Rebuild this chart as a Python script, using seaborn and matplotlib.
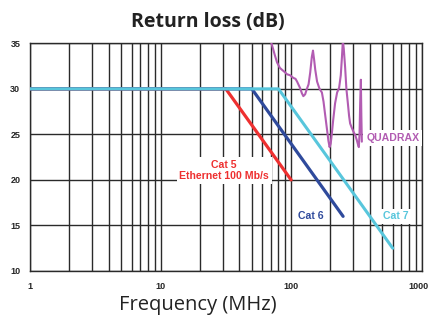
import numpy as np
import pandas as pd
import matplotlib
matplotlib.use("Agg")
import matplotlib.pyplot as plt
import matplotlib.transforms as mtransforms
import seaborn as sns

# Cable specs: frequency (MHz) vs return loss (dB)
cat5_freq = [1, 31.6, 100]
cat5_rl = [30, 30, 20]

cat6_freq = [1, 50, 250]
cat6_rl = [30, 30, 16]

cat7_freq = [1, 80, 600]
cat7_rl = [30, 30, 12.5]

quadrax_freq = [70, 73, 75, 78, 82, 85, 90, 93, 98, 104, 108, 111, 117, 121, 124,
                128, 132, 136, 140, 144, 147, 150, 153, 158, 165, 172, 177, 182,
                188, 193, 197, 201, 205, 210, 217, 225, 233, 240, 245, 249, 253,
                259, 265, 272, 278, 283, 290, 300, 310, 318, 325, 330, 334, 338,
                342, 345, 348]
quadrax_rl = [35.2, 34.3, 33.7, 32.9, 32.3, 32.1, 31.8, 31.6, 31.5, 31.2, 31.1,
              30.8, 30.1, 29.5, 29.2, 29.4, 30.0, 30.5, 31.8, 33.5, 34.2, 33.2,
              32.1, 30.8, 30.0, 29.6, 28.6, 27.2, 25.6, 24.3, 23.6, 24.0, 25.1,
              26.6, 28.4, 29.6, 30.1, 31.5, 33.5, 35.3, 34.4, 32.4, 30.0, 28.4,
              27.0, 26.2, 25.8, 25.3, 24.9, 24.4, 23.9, 23.6, 25.0, 28.5, 31.0,
              27.0, 24.2]

x_ticks = [1, 10, 100, 1000]
y_ticks = [10, 15, 20, 25, 30, 35]

RED = "#ee3030"
BLUE = "#2f4a9c"
CYAN = "#58c6dc"
MAGENTA = "#b25cb2"
GRID = "#2a2a2a"

sns.set_style("white")
plt.rcParams["font.family"] = ["Liberation Sans", "DejaVu Sans"]

fig = plt.figure(figsize=(4.3, 3.15), dpi=100)
ax = fig.add_axes([0.0698, 0.1397, 0.9109, 0.7228])

sns.lineplot(x=cat5_freq, y=cat5_rl, ax=ax, color=RED, lw=2.3, zorder=3)
sns.lineplot(x=cat6_freq, y=cat6_rl, ax=ax, color=BLUE, lw=2.3, zorder=4)
sns.lineplot(x=cat7_freq, y=cat7_rl, ax=ax, color=CYAN, lw=2.2, zorder=5)
q = pd.DataFrame({"f": quadrax_freq, "rl": quadrax_rl})
sns.lineplot(data=q, x="f", y="rl", ax=ax, color=MAGENTA, lw=1.5, sort=False,
             zorder=6)

ax.set_xscale("log")
ax.set_xlim(1, 1000)
ax.set_ylim(10, 35)
ax.set_xticks(x_ticks)
ax.set_xticklabels([str(t) for t in x_ticks])
ax.set_yticks(y_ticks)
ax.set_yticklabels([str(t) for t in y_ticks])
ax.xaxis.set_minor_locator(matplotlib.ticker.LogLocator(base=10, subs=np.arange(2, 10)))
ax.xaxis.set_minor_formatter(matplotlib.ticker.NullFormatter())

ax.grid(True, which="both", axis="x", color=GRID, lw=1.0, zorder=1)
ax.grid(True, which="major", axis="y", color=GRID, lw=1.0, zorder=1)
ax.set_axisbelow(True)
for s in ax.spines.values():
    s.set_color(GRID)
    s.set_linewidth(1.0)

ax.tick_params(axis="both", which="major", direction="out", length=3, width=1,
               color=GRID, labelsize=6.5)
ax.tick_params(axis="x", which="minor", length=0)
ax.tick_params(axis="x", pad=5)
ax.tick_params(axis="y", pad=4)
for lab in ax.get_xticklabels() + ax.get_yticklabels():
    lab.set_fontweight("bold")

# keep the last x label inside the figure
last = ax.get_xticklabels()[-1]
last.set_transform(last.get_transform() +
                   mtransforms.ScaledTranslation(-3 / 100, 0, fig.dpi_scale_trans))

ax.set_xlabel("")
ax.set_ylabel("")

box = dict(facecolor="white", edgecolor="none", pad=2)
ax.text(30.7, 21.0, "Cat 5\nEthernet 100 Mb/s", color=RED, fontsize=7.6,
        fontweight="bold", ha="center", va="center", multialignment="center",
        linespacing=1.15, bbox=box, zorder=7)
ax.text(142, 16.0, "Cat 6", color=BLUE, fontsize=7.6, fontweight="bold",
        ha="center", va="center", bbox=box, zorder=7)
ax.text(638, 16.0, "Cat 7", color=CYAN, fontsize=7.6, fontweight="bold",
        ha="center", va="center", bbox=box, zorder=7)
ax.text(600, 24.6, "QUADRAX", color=MAGENTA, fontsize=7.6, fontweight="bold",
        ha="center", va="center", bbox=box, zorder=7)

fig.text(208 / 430, 1 - 22 / 315, "Return loss (dB)", ha="center", va="center",
         fontsize=14, fontweight="bold", color="#222222",
         family=["Open Sans", "DejaVu Sans"])
fig.text(198 / 430, 1 - 305 / 315, "Frequency (MHz)", ha="center", va="center",
         fontsize=14.5, color="#222222", family=["Open Sans", "DejaVu Sans"])

fig.savefig("out.png", dpi=100)
